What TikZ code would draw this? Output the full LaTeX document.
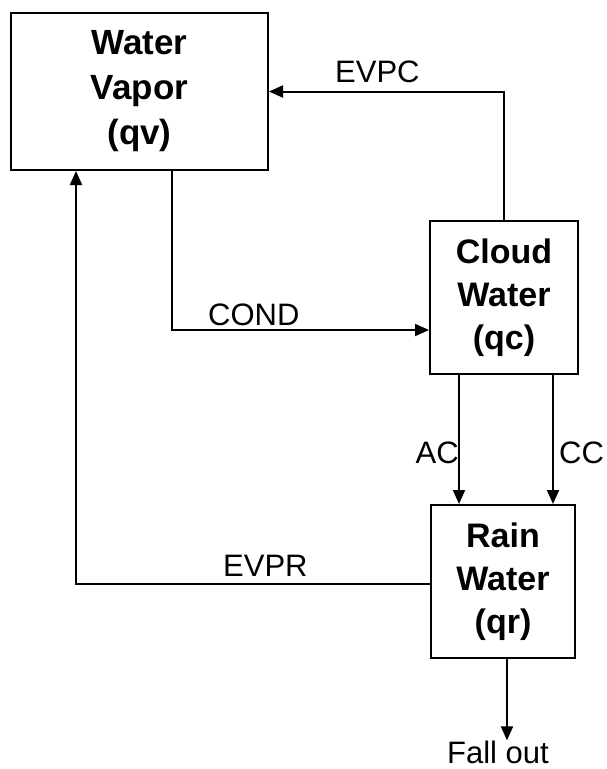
\documentclass[tikz,border=0pt]{standalone}
\usepackage{fontspec}
\setmainfont{Liberation Sans}
\usetikzlibrary{arrows.meta, positioning}

\begin{document}
\begin{tikzpicture}[x=1pt, y=-1pt,
    box/.style={draw, line width=2pt, align=center, inner sep=0pt,
        font=\bfseries\fontsize{34}{43}\selectfont},
    flow/.style={line width=2pt, -{Triangle[length=14pt, width=12pt]}},
    lbl/.style={font=\fontsize{31}{36}\selectfont, inner sep=0pt}]
    \useasboundingbox (0,0) rectangle (606,769);

    % The three water boxes
    \node[box, minimum width=257pt, minimum height=157pt,
        font=\bfseries\fontsize{35}{45}\selectfont] (vapor) at (139.5,91.5) {Water\\Vapor\\(qv)};
    \node[box, minimum width=148pt, minimum height=153pt] (cloud) at (504,297.5) {Cloud\\Water\\(qc)};
    \node[box, minimum width=144pt, minimum height=153pt] (rain) at (503,581.5) {Rain\\Water\\(qr)};

    % Turning points of the connectors
    \coordinate (condx) at (172,330);
    \coordinate (evprx) at (76,584);
    \coordinate (acx) at (459,0);
    \coordinate (ccx) at (553,0);
    \coordinate (fallx) at (507,0);

    % Labels
    \node[lbl, anchor=base west] (evpc) at (335,82) {EVPC};
    \node[lbl, anchor=base west] (cond) at (208,325) {COND};
    \node[lbl, anchor=base west] (evpr) at (223,576) {EVPR};
    \node[lbl, anchor=base east] (ac) at (459,463) {AC};
    \node[lbl, anchor=base west] (cc) at (559,463) {CC};
    \node[lbl, anchor=base] (fall) at (498,763) {Fall out};

    % Connectors
    \draw[flow] (cloud.north) |- (vapor.east);
    \draw[flow] (vapor.south -| condx) |- (cloud.west |- condx);
    \draw[flow] (cloud.south -| acx) -- (rain.north -| acx);
    \draw[flow] (cloud.south -| ccx) -- (rain.north -| ccx);
    \draw[flow] (rain.west |- evprx) -| (vapor.south -| evprx);
    \draw[flow] (rain.south -| fallx) -- (fallx |- fall.north);

\end{tikzpicture}
\end{document}
